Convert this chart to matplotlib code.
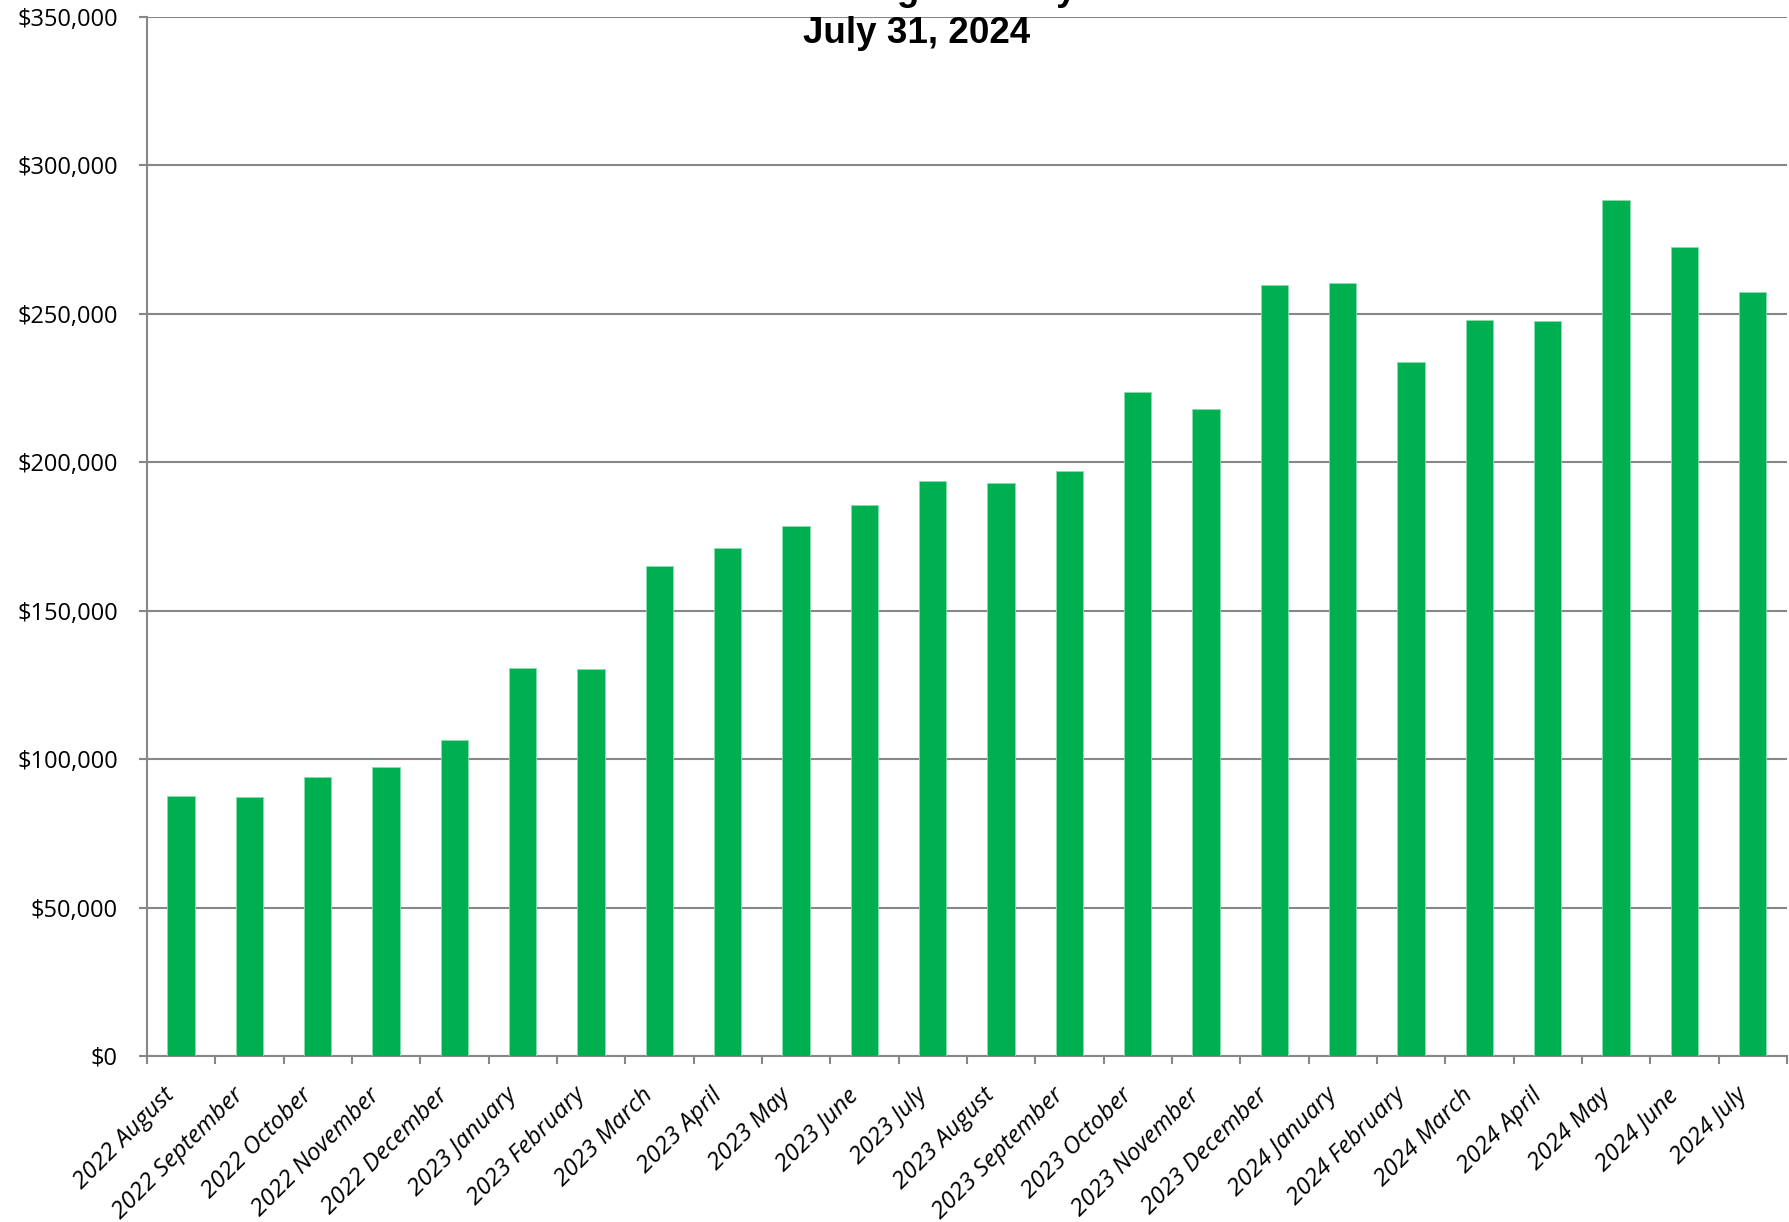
import matplotlib
matplotlib.use("Agg")
import matplotlib.pyplot as plt
from matplotlib.ticker import FuncFormatter, FixedLocator
from matplotlib.transforms import ScaledTranslation
import numpy as np

title_line1 = "Brokerage History"
title_line2 = "July 31, 2024"

categories = [
    "2022 August", "2022 September", "2022 October", "2022 November", "2022 December",
    "2023 January", "2023 February", "2023 March", "2023 April", "2023 May",
    "2023 June", "2023 July", "2023 August", "2023 September", "2023 October",
    "2023 November", "2023 December", "2024 January", "2024 February", "2024 March",
    "2024 April", "2024 May", "2024 June", "2024 July",
]
values = [
    87500, 87200, 93900, 97500, 106300,
    130700, 130300, 165000, 171000, 178600,
    185600, 193800, 193100, 197000, 223600,
    217800, 259800, 260300, 233800, 247800,
    247500, 288400, 272400, 257400,
]
y_ticks = [0, 50000, 100000, 150000, 200000, 250000, 300000, 350000]

W, H = 1790, 1222
fig = plt.figure(figsize=(W / 100, H / 100), dpi=100)
ax = fig.add_axes([147 / W, (H - 1056) / H, (1787 - 147) / W, (1056 - 17) / H])

grid_col = "#878787"
x = np.arange(len(categories))
ax.bar(x, values, width=0.4, color="#00B050", edgecolor="#86dcac", linewidth=0.6, zorder=3)

ax.set_xlim(-0.5, len(categories) - 0.5)
ax.set_ylim(0, 350000)
ax.yaxis.set_major_locator(FixedLocator(y_ticks))
ax.yaxis.set_major_formatter(FuncFormatter(lambda v, p: "${:,.0f}".format(v)))
ax.grid(axis="y", color=grid_col, linewidth=1.5, zorder=1)
ax.set_axisbelow(True)

for s in ["top", "right"]:
    ax.spines[s].set_visible(False)
for s in ["left", "bottom"]:
    ax.spines[s].set_color(grid_col)
    ax.spines[s].set_linewidth(1.5)

ax.tick_params(axis="y", which="major", direction="out", length=6, width=1.5,
               color=grid_col, pad=15, labelsize=17)
for lab in ax.get_yticklabels():
    lab.set_fontfamily(["Open Sans", "DejaVu Sans"])

ax.set_xticks(x)
ax.set_xticklabels(categories, rotation=45, ha="right", rotation_mode="anchor",
                   fontsize=17.5, fontstyle="italic", family=["Open Sans", "DejaVu Sans"])
ax.tick_params(axis="x", which="major", length=0, pad=14)
ax.set_xticks(np.arange(-0.5, len(categories), 1.0), minor=True)
ax.tick_params(axis="x", which="minor", direction="out", length=6, width=1.5, color=grid_col)
offset = ScaledTranslation(-18 / 100, -8 / 100, fig.dpi_scale_trans)
for lab in ax.get_xticklabels():
    lab.set_transform(lab.get_transform() + offset)

tx = 917 / W
fig.text(tx, 1 - 0.5 / H, title_line1, ha="center", va="baseline",
         fontsize=26.5, fontweight="bold", family=["Liberation Sans", "DejaVu Sans"])
fig.text(tx, 1 - 42.7 / H, title_line2, ha="center", va="baseline",
         fontsize=26.5, fontweight="bold", family=["Liberation Sans", "DejaVu Sans"])

fig.savefig("out.png", dpi=100, facecolor="white")
